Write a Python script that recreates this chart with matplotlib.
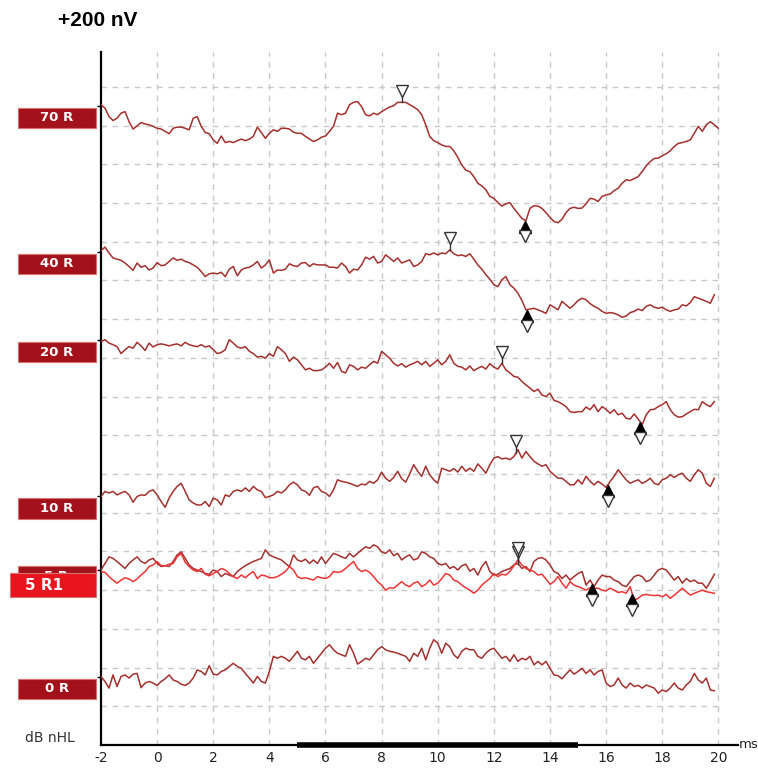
"""ABR waveform stack (dB nHL series) redrawn with matplotlib."""

import matplotlib
matplotlib.use("Agg")
import matplotlib.pyplot as plt
import numpy as np
from matplotlib.patches import Rectangle

SAMPLE_MS = 1 / 7  # sampling step of the traces
T_START_MS = -2.0

# amplitudes in nV relative to each trace baseline
WAVE_70R = [
    3, -6, -28, -38, -32, -19, -15, -41, -60, -52,
    -43, -47, -49, -53, -58, -60, -66, -72, -58, -55,
    -55, -58, -62, -32, -28, -53, -69, -72, -88, -97,
    -78, -95, -92, -95, -90, -86, -90, -86, -79, -55,
    -69, -84, -71, -62, -66, -58, -58, -60, -68, -71,
    -71, -79, -86, -92, -88, -81, -78, -66, -53, -19,
    -23, -19, 3, 9, 11, -2, -23, -26, -19, -23,
    -15, -9, -3, 0, 9, 9, 9, 3, -3, -10,
    -23, -49, -79, -90, -95, -101, -105, -105, -116, -133,
    -153, -166, -170, -183, -200, -207, -217, -234, -239, -250,
    -259, -253, -250, -265, -278, -291, -297, -265, -258, -259,
    -265, -276, -288, -299, -302, -293, -276, -265, -262, -265,
    -264, -253, -239, -241, -247, -234, -230, -228, -219, -213,
    -200, -191, -193, -188, -183, -170, -155, -144, -136, -135,
    -129, -124, -116, -105, -97, -95, -92, -88, -71, -53,
    -66, -49, -41, -49, -58,
]
WAVE_40R = [
    3, 12, -3, -16, -19, -22, -29, -38, -48, -29,
    -40, -36, -47, -42, -28, -36, -34, -25, -16, -22,
    -19, -25, -28, -34, -40, -51, -64, -57, -55, -57,
    -53, -64, -45, -38, -62, -47, -42, -40, -34, -25,
    -42, -34, -21, -55, -47, -48, -45, -31, -36, -38,
    -29, -28, -38, -31, -34, -34, -34, -40, -40, -42,
    -29, -38, -55, -45, -47, -34, -14, -19, -12, -29,
    -25, -8, -16, -25, -16, -29, -25, -21, -38, -34,
    -25, -5, -8, -3, -8, -3, -5, 5, -5, -10,
    -8, -12, -5, -19, -34, -45, -59, -71, -85, -90,
    -72, -64, -85, -94, -107, -126, -150, -148, -146, -150,
    -154, -159, -137, -143, -150, -128, -137, -146, -137, -126,
    -120, -124, -134, -141, -146, -154, -159, -157, -159, -163,
    -169, -166, -157, -154, -148, -152, -141, -137, -143, -146,
    -143, -150, -154, -150, -148, -137, -140, -131, -116, -120,
    -124, -128, -133, -111,
]
WAVE_20R = [
    -3, 2, -7, -11, -16, -34, -24, -16, -20, -5,
    -14, -26, -7, -17, -11, -9, -11, -14, -11, -9,
    -14, -5, -11, -14, -16, -11, -17, -14, -24, -34,
    -31, -24, 2, -7, -17, -20, -16, -28, -34, -43,
    -41, -46, -34, -41, -16, -24, -34, -54, -43, -50,
    -63, -76, -72, -78, -78, -76, -69, -59, -72, -57,
    -80, -84, -63, -67, -76, -69, -72, -63, -54, -59,
    -28, -37, -46, -59, -66, -60, -69, -63, -59, -54,
    -63, -54, -67, -59, -50, -63, -54, -37, -59, -67,
    -69, -76, -66, -78, -72, -67, -74, -60, -69, -74,
    -59, -76, -84, -93, -95, -106, -115, -123, -132, -126,
    -141, -145, -136, -155, -158, -164, -171, -184, -186, -184,
    -184, -172, -179, -166, -184, -171, -178, -188, -179, -192,
    -188, -201, -203, -190, -203, -218, -192, -179, -178, -171,
    -166, -158, -179, -192, -198, -197, -190, -184, -178, -179,
    -158, -166, -171, -158,
]
WAVE_10R = [
    0, 13, 9, 13, 4, 9, 13, 4, -15, 0,
    4, 3, 13, 17, 4, -13, -28, -4, 13, 26,
    34, 13, -9, -17, -22, -22, -13, -26, -4, -9,
    -22, 4, 0, 13, 17, 13, 22, 13, 26, 17,
    13, -3, 0, 4, 13, 9, 17, 30, 37, 30,
    17, 13, 3, 22, 26, 13, 9, 0, 17, 43,
    39, 37, 34, 30, 26, 32, 30, 39, 34, 43,
    63, 47, 39, 49, 65, 46, 37, 58, 82, 65,
    52, 78, 56, 43, 34, 73, 69, 65, 72, 63,
    78, 65, 73, 65, 84, 73, 60, 82, 99, 103,
    97, 99, 95, 103, 121, 99, 116, 103, 91, 84,
    78, 82, 65, 56, 47, 47, 39, 30, 30, 43,
    32, 52, 39, 30, 39, 32, 23, 39, 52, 69,
    56, 43, 34, 39, 43, 34, 39, 47, 34, 30,
    43, 47, 56, 49, 56, 60, 47, 39, 56, 69,
    60, 34, 26, 47,
]
WAVE_5R = [
    0, 17, 34, 30, 22, 13, 4, 17, 26, 34,
    22, 17, 26, 30, 17, 9, 11, 9, 22, 39,
    47, 30, 13, 4, 0, -4, -9, -11, 0, -4,
    -17, -9, -13, -17, -4, 4, 11, 17, 22, 26,
    30, 52, 39, 34, 30, 26, 17, 9, 39, 26,
    22, 28, 17, 26, 17, 34, 17, 30, 43, 39,
    34, 30, 43, 34, 43, 52, 60, 56, 65, 60,
    47, 43, 52, 37, 43, 26, 34, 39, 26, 30,
    47, 43, 34, 30, 17, 13, 17, 4, 9, 0,
    11, 15, -3, 4, -13, 9, 22, -4, -13, -11,
    -4, 0, 4, 13, 17, 4, 9, -4, 22, 30,
    32, 26, 13, -4, -9, -22, -13, -26, -17, -9,
    -4, -39, -26, -43, -26, -13, -17, -17, -26, -30,
    -39, -43, -30, -17, -13, -17, -30, -26, -13, 0,
    4, 0, -13, -26, -17, -34, -22, -30, -26, -34,
    -34, -47, -30, -11,
]
WAVE_5R1 = [
    -4, -6, -17, -26, -34, -26, -20, -23, -30, -23,
    -13, -4, 9, 13, 22, 11, 11, 15, 17, 34,
    43, 20, 9, 0, -4, 4, -11, -15, -9, -4,
    4, 0, -9, -17, -22, -13, -20, -11, -4, -22,
    -13, -15, -20, -20, -17, -11, -4, 9, 0, -17,
    -22, -20, -23, -26, -17, -20, -22, -17, -4, -6,
    -4, 4, 13, 22, 4, -4, 0, -6, -17, -30,
    -39, -52, -46, -47, -39, -30, -39, -43, -34, -30,
    -43, -37, -26, -39, -34, -22, -9, -13, -26, -30,
    -39, -46, -52, -60, -52, -39, -30, -22, -9, -17,
    -11, -13, -4, 11, 26, 13, 4, 0, -4, -13,
    -11, -23, -37, -30, -17, -34, -47, -30, -39, -43,
    -47, -52, -46, -47, -47, -52, -54, -47, -52, -58,
    -56, -60, -43, -78, -73, -65, -63, -65, -66, -65,
    -69, -63, -73, -65, -56, -47, -56, -65, -60, -56,
    -52, -56, -58, -60,
]
WAVE_0R = [
    1, -12, -29, 5, -25, 1, 5, -3, 7, 9,
    -28, -16, -12, -16, -22, -12, -5, 5, -8, -12,
    -19, -22, -16, -3, 18, 14, 5, 29, 7, 5,
    14, 18, 27, 35, 27, 22, 9, -3, -16, 1,
    -12, -16, 14, 53, 48, 53, 48, 40, 53, 66,
    48, 44, 53, 35, 48, 61, 74, 83, 70, 61,
    57, 53, 83, 61, 33, 40, 48, 44, 57, 70,
    78, 70, 66, 64, 61, 57, 53, 40, 61, 53,
    74, 44, 74, 96, 87, 61, 87, 78, 57, 48,
    66, 74, 70, 70, 53, 48, 61, 70, 74, 61,
    48, 53, 40, 57, 40, 48, 44, 53, 31, 40,
    31, 40, 22, 5, 3, -5, 7, 18, 7, 14,
    22, 9, 18, 5, 14, 18, -16, -25, -21, -3,
    -21, -29, -16, -25, -22, -29, -21, -25, -29, -42,
    -34, -38, -29, -16, -29, -34, -21, -12, 9, -8,
    -16, -3, -34, -36,
]

TRACE_NAMES = ["70 R", "40 R", "20 R", "10 R", "5 R", "5 R1", "0 R"]
TRACES = [WAVE_70R, WAVE_40R, WAVE_20R, WAVE_10R, WAVE_5R, WAVE_5R1, WAVE_0R]
BASELINE_NV = [1651, 1274, 1045, 642, 452, 452, 176]
PEAK_V_MS = [8.71, 10.43, 12.29, 12.79, 12.86, 12.86, None]
TROUGH_V_MS = [13.10, 13.19, 17.21, 16.07, 15.50, 16.93, None]
X_TICKS = list(range(-2, 21, 2))

DARK = "#a3302e"
BRIGHT = "#ee3535"
BOX_DARK = "#a3121b"
BOX_BRIGHT = "#e8141e"


def draw_label(ax, name, base, z):
    """Draw the coloured level tag left of the y axis."""
    if name == "5 R1":
        x0, x1, yc, half, face, tx, fs = -5.24, -2.18, base - 39, 31, BOX_BRIGHT, -4.03, 11
    elif name == "5 R":
        x0, x1, yc, half, face, tx, fs = -4.96, -2.18, base - 18, 28, BOX_DARK, -3.6, 9.5
    else:
        x0, x1, yc, half, face, tx, fs = -4.96, -2.18, base - 31, 26, BOX_DARK, -3.57, 9.5
    ax.add_patch(Rectangle((x0, yc - half), x1 - x0, 2 * half, facecolor=face,
                           edgecolor="#d87070", lw=0.8, clip_on=False, zorder=z))
    ax.text(tx, yc, name, color="white", fontsize=fs, fontweight="bold",
            ha="center", va="center", clip_on=False, zorder=z + 0.5)


def draw_markers(ax, t, y, peak, trough):
    if peak is not None:
        py = np.interp(peak, t, y)
        ax.plot([peak, peak], [py, py + 16], color="#333333", lw=1, zorder=4)
        ax.plot(peak, py + 30, marker="v", ms=8, mfc="white", mec="#333333",
                mew=1, zorder=4)
    if trough is not None:
        ty = np.interp(trough, t, y)
        ax.plot([trough, trough], [ty - 14, ty - 50], color="#333333", lw=1, zorder=4)
        ax.plot(trough, ty - 17, marker="^", ms=8, color="black", zorder=4)
        ax.plot(trough, ty - 42, marker="v", ms=8, mfc="white", mec="#333333",
                mew=1, zorder=4)


def main():
    fig = plt.figure(figsize=(7.58, 7.68), dpi=100)
    ax = fig.add_axes([101 / 758, 23 / 768, 637 / 758, 693 / 768])
    ax.set_xlim(-2, 20.7)
    ax.set_ylim(0, 1790)

    ax.hlines(range(100, 1800, 100), -2, 20, colors="#c8c8c8",
              linestyles=(0, (4, 4)), lw=1, zorder=1)
    ax.vlines(X_TICKS[1:], 0, 1790, colors="#c8c8c8",
              linestyles=(0, (4, 4)), lw=1, zorder=1)

    for name, wave, base, peak, trough in zip(TRACE_NAMES, TRACES, BASELINE_NV,
                                              PEAK_V_MS, TROUGH_V_MS):
        vals = np.asarray(wave, dtype=float)
        t = T_START_MS + np.arange(len(vals)) * SAMPLE_MS
        color = BRIGHT if name == "5 R1" else DARK
        ax.plot(t, vals + base, color=color, lw=1.1, zorder=3)
        draw_markers(ax, t, vals + base, peak, trough)

    for i, (name, base) in enumerate(zip(TRACE_NAMES, BASELINE_NV)):
        draw_label(ax, name, base, 5 + i)

    for side in ("top", "right"):
        ax.spines[side].set_visible(False)
    for side in ("left", "bottom"):
        ax.spines[side].set_linewidth(1.6)
        ax.spines[side].set_color("black")

    ax.set_xticks(X_TICKS)
    ax.set_xticklabels([str(v) for v in X_TICKS])
    ax.tick_params(axis="x", length=0, pad=4, labelsize=10, labelcolor="#222222")
    ax.set_yticks(sorted(set(BASELINE_NV)))
    ax.set_yticklabels([])
    ax.tick_params(axis="y", length=3, width=1, color="black")

    ax.plot([5, 15], [0, 0], color="black", lw=4, solid_capstyle="butt",
            clip_on=False, zorder=6)
    ax.text(20.72, 0, "ms", fontsize=9.5, color="#222222", ha="left", va="center",
            clip_on=False)

    fig.text(50 / 758, 1 - 738 / 768, "dB nHL", fontsize=10, color="#333333",
             ha="center", va="center")
    fig.text(98 / 758, 1 - 20 / 768, "+200 nV", fontsize=15, fontweight="bold",
             family="Liberation Sans", ha="center", va="center")

    fig.savefig("out.png", dpi=100)
    plt.close(fig)


if __name__ == "__main__":
    main()
